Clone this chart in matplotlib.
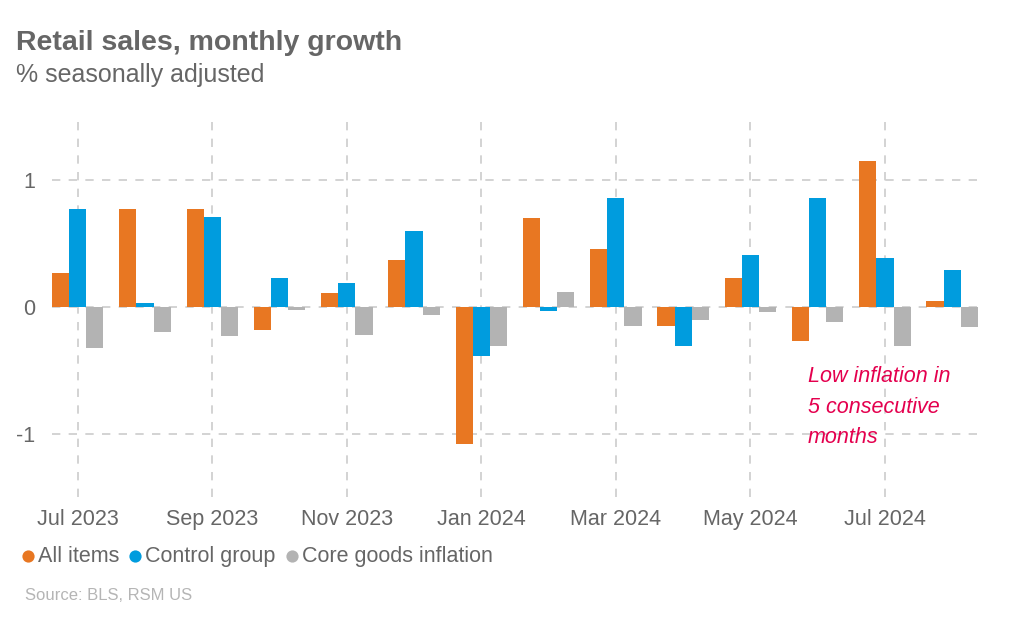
import numpy as np
import matplotlib.pyplot as plt
from matplotlib.lines import Line2D

plt.rcParams['font.family'] = ['Liberation Sans', 'DejaVu Sans']

months = ['Jul 2023', 'Aug 2023', 'Sep 2023', 'Oct 2023', 'Nov 2023', 'Dec 2023',
          'Jan 2024', 'Feb 2024', 'Mar 2024', 'Apr 2024', 'May 2024', 'Jun 2024',
          'Jul 2024', 'Aug 2024']
all_items = [0.27, 0.77, 0.77, -0.18, 0.11, 0.37, -1.08, 0.70, 0.46, -0.15, 0.23, -0.27, 1.15, 0.05]
control   = [0.77, 0.03, 0.71, 0.23, 0.19, 0.60, -0.39, -0.03, 0.86, -0.31, 0.41, 0.86, 0.39, 0.29]
core_goods = [-0.32, -0.20, -0.23, -0.02, -0.22, -0.06, -0.31, 0.12, -0.15, -0.10, -0.04, -0.12, -0.31, -0.16]

c_orange = '#E87722'
c_blue = '#009CDE'
c_gray = '#B3B3B3'
txt = '#666666'
grid_c = '#cccccc'

fig = plt.figure(figsize=(10.24, 6.25), dpi=100)
ax = fig.add_axes([0.0508, 0.2048, 0.9042, 0.608])

x = np.arange(len(months))
w = 0.255
ax.bar(x - w, all_items, w, color=c_orange, lw=0, zorder=3)
ax.bar(x, control, w, color=c_blue, lw=0, zorder=3)
ax.bar(x + w, core_goods, w, color=c_gray, lw=0, zorder=3)

ax.set_xlim(-1.5 * w, len(months) - 1 + 1.5 * w)
ax.set_ylim(-1.5, 1.5)

ax.set_xticks(x[::2])
ax.set_xticklabels(months[::2])
ax.set_yticks([-1, 0, 1])
ax.set_yticklabels(['-1', '0', '1'])
ax.tick_params(length=0, labelsize=15.5, colors=txt)
ax.tick_params(axis='x', pad=20)
ax.tick_params(axis='y', pad=12)
for lab in ax.get_xticklabels():
    lab.set_va('baseline')  # keep all month labels on one baseline

ax.grid(True, color=grid_c, ls=(0, (5, 5)), lw=1.2, zorder=0)
for s in ax.spines.values():
    s.set_visible(False)

fig.text(0.789, 0.414, 'Low inflation in\n5 consecutive\nmonths',
         color='#E4004E', fontsize=15.5, style='italic', va='top', ha='left', linespacing=1.6)

fig.text(0.016, 0.92, 'Retail sales, monthly growth', fontsize=20.5, fontweight='bold',
         color=txt, ha='left', va='baseline')
fig.text(0.016, 0.869, '% seasonally adjusted', fontsize=18, color=txt,
         ha='left', va='baseline')

# legend row: dot, then label, repeated
items = [('All items', c_orange), ('Control group', c_blue), ('Core goods inflation', c_gray)]
W, H = fig.bbox.width, fig.bbox.height
cx = 28.0  # px
renderer = fig.canvas.get_renderer()
for label, col in items:
    fig.add_artist(Line2D([cx / W], [(625 - 555.5) / H], transform=fig.transFigure,
                          marker='o', ms=8.8, color=col, mew=0, ls='none'))
    t = fig.text((cx + 10) / W, (625 - 562) / H, label, color=txt, fontsize=15.5,
                 ha='left', va='baseline')
    bb = t.get_window_extent(renderer=renderer)
    cx = bb.x1 + 16

fig.text(0.024, 0.040, 'Source: BLS, RSM US', fontsize=12, color='#b5b5b5',
         ha='left', va='baseline')

fig.savefig('out.png', dpi=100)
